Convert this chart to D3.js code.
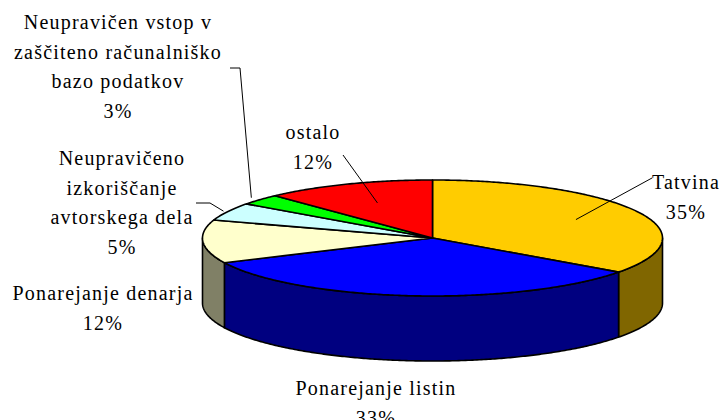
<!DOCTYPE html>
<html>
<head>
<meta charset="utf-8">
<script src="https://cdn.jsdelivr.net/npm/d3@7"></script>
<style>
  body { margin: 0; background: #fff; }
  text { font-family: "Liberation Serif", "Times New Roman", serif; font-size: 20px; letter-spacing: 1.2px; fill: #000; }
</style>
</head>
<body>
<svg id="chart" width="724" height="420"></svg>
<script>
// data, clockwise from 12 o'clock
const categories = [
  "Tatvina",
  "Ponarejanje listin",
  "Ponarejanje denarja",
  "Neupravičeno\nizkoriščanje\navtorskega dela",
  "Neupravičen vstop v\nzaščiteno računalniško\nbazo podatkov",
  "ostalo"
];
const values = [35, 33, 12, 5, 3, 12];
const topColors = ["#ffcc00", "#0000ff", "#ffffcc", "#ccffff", "#00ff00", "#ff0000"];
const sideColors = ["#806600", "#000080", "#808066", "#668080", "#008000", "#800000"];

// label placement (Excel labels were dragged by hand)
const labelLayout = [
  { x: 686, y: 182, from: 0.7, path: [[652, 178]] },
  { x: 376, y: 388 },
  { x: 103, y: 293 },
  { x: 122, y: 158, from: 1.02, path: [[210, 203], [196, 203]] },
  { x: 118, y: 22, from: 1.05, path: [[240, 68], [230, 68]] },
  { x: 313, y: 132, from: 0.65, path: [[343, 155]] }
];

const cx = 432.5, cy = 238, rx = 230, ry = 58, depth = 65;
const lineGap = 29.7;

const svg = d3.select("#chart");
const total = d3.sum(values);

const pie = d3.pie().sort(null).value(d => d.value)
  .startAngle(0).endAngle(2 * Math.PI);
const arcs = pie(categories.map((c, i) => ({ name: c, value: values[i] })));

// angle 0 = top, clockwise, projected onto a flat ellipse
const px = (a, f = 1) => cx + rx * f * Math.sin(a);
const py = (a, f = 1) => cy - ry * f * Math.cos(a);

function arcPoints(a0, a1, dy = 0) {
  const n = Math.max(2, Math.ceil(Math.abs(a1 - a0) / 0.01));
  return d3.range(n + 1).map(k => {
    const a = a0 + (a1 - a0) * k / n;
    return [px(a), py(a) + dy];
  });
}
const line = d3.line();

// side walls (front half only)
arcs.forEach(d => {
  const a0 = Math.max(d.startAngle, Math.PI / 2);
  const a1 = Math.min(d.endAngle, 3 * Math.PI / 2);
  if (a1 <= a0) return;
  const pts = arcPoints(a0, a1).concat(arcPoints(a1, a0, depth));
  svg.append("path")
    .attr("d", line(pts) + "Z")
    .attr("fill", sideColors[d.index])
    .attr("stroke", "#000")
    .attr("stroke-width", 1.6)
    .attr("stroke-linejoin", "round");
});

// top faces
arcs.forEach(d => {
  const pts = [[cx, cy]].concat(arcPoints(d.startAngle, d.endAngle));
  svg.append("path")
    .attr("d", line(pts) + "Z")
    .attr("fill", topColors[d.index])
    .attr("stroke", "#000")
    .attr("stroke-width", 1.6)
    .attr("stroke-linejoin", "round");
});

// leader lines
arcs.forEach(d => {
  const lay = labelLayout[d.index];
  if (!lay.path) return;
  const mid = (d.startAngle + d.endAngle) / 2;
  const pts = [[px(mid, lay.from), py(mid, lay.from)]].concat(lay.path);
  svg.append("path")
    .attr("d", line(pts))
    .attr("fill", "none")
    .attr("stroke", "#000")
    .attr("stroke-width", 1);
});

// labels
arcs.forEach(d => {
  const lay = labelLayout[d.index];
  const lines = d.data.name.split("\n").concat(Math.round(d.value / total * 100) + "%");
  const t = svg.append("text")
    .attr("text-anchor", "middle");
  lines.forEach((s, k) => {
    t.append("tspan")
      .attr("x", lay.x)
      .attr("y", lay.y + k * lineGap)
      .attr("dy", "0.35em")
      .text(s);
  });
});
</script>
</body>
</html>
